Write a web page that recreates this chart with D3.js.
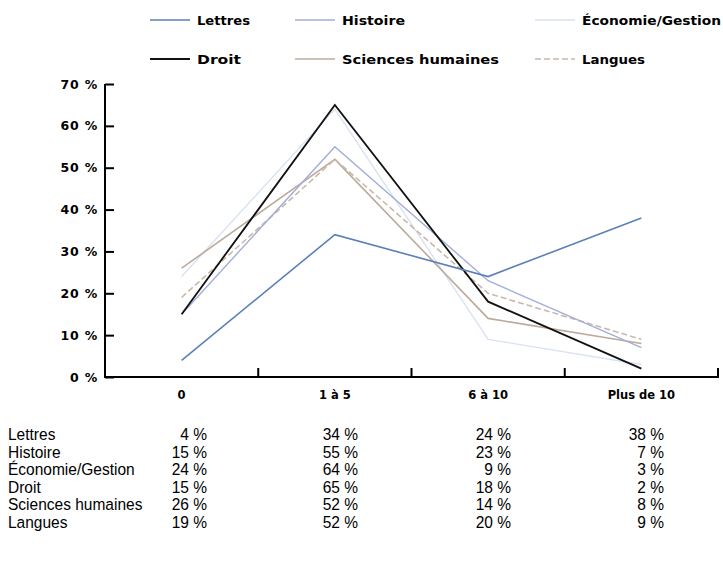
<!DOCTYPE html>
<html><head><meta charset="utf-8">
<script src="https://cdn.jsdelivr.net/npm/d3@7"></script>
<style>body{margin:0;background:#fff}</style>
</head><body>
<svg id="c" width="723" height="572"></svg>
<script>
const categories = ["0", "1 à 5", "6 à 10", "Plus de 10"];
const seriesNames = ["Lettres", "Histoire", "Économie/Gestion", "Droit", "Sciences humaines", "Langues"];
const lettres = [4, 34, 24, 38];
const histoire = [15, 55, 23, 7];
const economie = [24, 64, 9, 3];
const droit = [15, 65, 18, 2];
const sciences = [26, 52, 14, 8];
const langues = [19, 52, 20, 9];
const yTicks = [0, 10, 20, 30, 40, 50, 60, 70];

const values = [lettres, histoire, economie, droit, sciences, langues];
const colors = ["#5b80b8", "#a3addb", "#d8e2f2", "#111111", "#bcab9b", "#c9b9aa"];
const dashes = [null, null, null, null, null, "6,3"];
const widths = [1.6, 1.4, 1.4, 1.8, 1.6, 1.6];

const svg = d3.select("#c");
const x = d3.scaleBand().domain(categories).range([105, 718]);
const y = d3.scaleLinear().domain([0, 70]).range([377, 84]);
const bf = "DejaVu Sans, Verdana, sans-serif";

// axes
const yAxis = d3.axisLeft(y).tickValues(yTicks).tickSize(-9).tickFormat(d => d + " %");
const gy = svg.append("g").attr("transform", "translate(105,0)").call(yAxis);
gy.select(".domain").attr("stroke-width", 2).attr("d", "M0,84V377");
gy.selectAll(".tick line").attr("stroke-width", 2);
gy.selectAll(".tick text").attr("font-family", bf).attr("font-weight", "bold")
  .attr("font-size", 12.5).attr("letter-spacing", 0.8).attr("x", -7);

const gx = svg.append("g").attr("transform", "translate(0,377)");
gx.append("line").attr("x1", 104).attr("x2", 719).attr("stroke", "#000").attr("stroke-width", 2);
categories.forEach(c => {
  gx.append("line").attr("x1", x(c) + x.bandwidth()).attr("x2", x(c) + x.bandwidth())
    .attr("y1", 0).attr("y2", -9).attr("stroke", "#000").attr("stroke-width", 2);
  gx.append("text").attr("x", x(c) + x.bandwidth() / 2).attr("y", 22).attr("text-anchor", "middle")
    .attr("font-family", bf).attr("font-weight", "bold").attr("font-size", 11.5).text(c);
});

// lines
const line = d3.line().x((d, i) => x(categories[i]) + x.bandwidth() / 2).y(d => y(d));
const order = [2, 4, 5, 1, 3, 0];
order.forEach(i => {
  svg.append("path").datum(values[i]).attr("d", line).attr("fill", "none")
    .attr("stroke", colors[i]).attr("stroke-width", widths[i])
    .attr("stroke-dasharray", dashes[i]);
});

// legend
const legPos = [[150, 20], [295, 20], [535, 20], [150, 59], [295, 59], [535, 59]];
const legLen = [53, 63, 139, 44, 157, 63];
seriesNames.forEach((n, i) => {
  const [lx, ly] = legPos[i];
  svg.append("line").attr("x1", lx).attr("x2", lx + 40).attr("y1", ly).attr("y2", ly)
    .attr("stroke", colors[i]).attr("stroke-width", widths[i]).attr("stroke-dasharray", dashes[i]);
  svg.append("text").attr("x", lx + 47).attr("y", ly + 5)
    .attr("font-family", bf).attr("font-weight", "bold")
    .attr("font-size", 12).attr("textLength", legLen[i]).attr("lengthAdjust", "spacingAndGlyphs").text(n);
});

// table
const tf = "Liberation Sans Narrow, Liberation Sans, Arial, sans-serif";
const colRight = [207, 358, 511, 664];
seriesNames.forEach((n, i) => {
  const ty = 440 + i * 17.6;
  svg.append("text").attr("transform", `translate(8,${ty}) scale(0.94,1)`)
    .attr("font-family", tf).attr("font-size", 16.5).text(n);
  values[i].forEach((v, j) => {
    svg.append("text").attr("transform", `translate(${colRight[j]},${ty}) scale(0.94,1)`)
      .attr("text-anchor", "end").attr("font-family", tf).attr("font-size", 16.5).text(v + " %");
  });
});
</script>
</body></html>
